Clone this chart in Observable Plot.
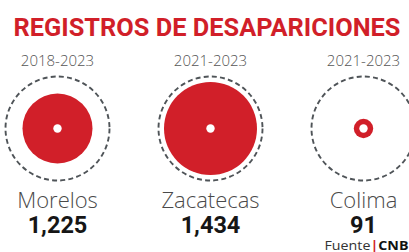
<!DOCTYPE html>
<html>
<head>
<meta charset="utf-8">
<script src="https://cdn.jsdelivr.net/npm/d3@7"></script>
<script src="https://cdn.jsdelivr.net/npm/@observablehq/plot@0.6"></script>
<style>
  html, body { margin: 0; padding: 0; background: #fff; }
  #chart svg { display: block; }
</style>
</head>
<body>
<div id="chart"></div>
<script>
// ---- data ----
const titleText = "REGISTROS DE DESAPARICIONES";
const states = ["Morelos", "Zacatecas", "Colima"];
const periods = ["2018-2023", "2021-2023", "2021-2023"];
const registros = [1225, 1434, 91];
const sourceText = "Fuente|CNB";

const rows = states.map((s, i) => ({state: s, period: periods[i], value: registros[i]}));

const RED = "#d11f29";
const fmt = d3.format(",");

const plot = Plot.plot({
  width: 409,
  height: 252,
  marginLeft: 57,
  marginRight: 46,
  marginTop: 4,
  marginBottom: 0,
  style: {background: "#fff", fontFamily: "'Open Sans', sans-serif"},
  x: {type: "point", domain: states, padding: 0, axis: null},
  r: {type: "linear", domain: [0, 91, 1225, 1434], range: [0, 9.7, 35, 46.5]},
  marks: [
    // title
    Plot.text([titleText], {
      frameAnchor: "top", dx: -3.5, dy: 31.5, lineAnchor: "bottom",
      fill: RED, fontSize: 26.5, fontWeight: "bold", fontFamily: "Roboto, sans-serif"
    }),
    // periods
    Plot.text(rows, {
      x: "state", text: "period", frameAnchor: "top", dy: 61, lineAnchor: "bottom",
      fill: "#555", fontSize: 15, fontWeight: 300
    }),
    // dashed reference circles
    Plot.dot(rows, {
      x: "state", r: 52, stroke: "#4f5458", strokeWidth: 1.9, strokeDasharray: "5,3.2", fill: "none"
    }),
    // red proportional circles
    Plot.dot(rows, {x: "state", r: "value", fill: RED, stroke: "none"}),
    // white centre
    Plot.dot(rows, {x: "state", r: 4.2, fill: "#fff", stroke: "none"}),
    // state names
    Plot.text(rows, {
      x: "state", text: "state", frameAnchor: "top", dy: 203, lineAnchor: "bottom",
      fill: "#4a4a4a", fontSize: 22, fontWeight: 300
    }),
    // values
    Plot.text(rows, {
      x: "state", text: d => fmt(d.value), frameAnchor: "top", dy: 228.5, lineAnchor: "bottom",
      fill: "#161616", fontSize: 23.5, fontWeight: "bold", fontFamily: "Roboto, sans-serif"
    }),
    // source
    Plot.text([sourceText], {
      frameAnchor: "bottom-right", dx: 45, dy: -3, lineAnchor: "bottom", textAnchor: "end",
      fill: "#333", fontSize: 12
    })
  ]
});

document.getElementById("chart").appendChild(plot);

// fit title width and style the source line
const svg = d3.select(plot);
svg.selectAll("text").each(function() {
  const t = d3.select(this);
  const s = this.textContent;
  if (s === titleText) {
    t.attr("textLength", 387).attr("lengthAdjust", "spacingAndGlyphs");
  } else if (s === sourceText) {
    const [a, b] = s.split("|");
    t.text(null);
    t.append("tspan").attr("fill", "#333").text(a);
    t.append("tspan").attr("fill", RED).attr("font-weight", "bold").text("|");
    t.append("tspan").attr("fill", "#111").attr("font-weight", "bold").text(b);
    t.attr("textLength", 84).attr("lengthAdjust", "spacingAndGlyphs");
  }
});
</script>
</body>
</html>
